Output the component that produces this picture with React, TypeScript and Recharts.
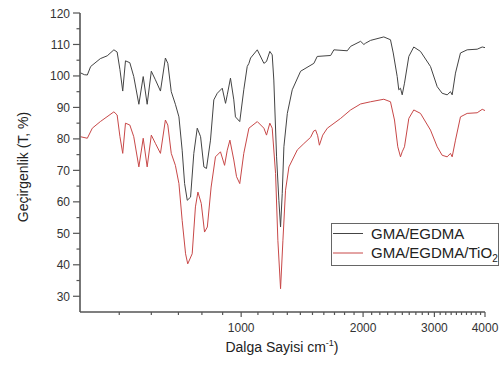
import React from "react";
import { LineChart, Line, XAxis, YAxis, Legend } from "recharts";

// wavenumber (cm-1) and transmittance (%)
const WAVE_GMA = [
  401, 410, 417, 425, 449, 467, 485, 494, 502, 510, 518, 531, 543, 559, 573,
  586, 600, 614, 632, 650, 659, 672, 688, 702, 715, 725, 736, 750, 764, 779,
  794, 809, 821, 840, 856, 873, 898, 915, 924, 941, 959, 968, 992, 1015, 1035,
  1045, 1055, 1096, 1138, 1155, 1177, 1193, 1204, 1223, 1239, 1251, 1263, 1275,
  1300, 1337, 1402, 1512, 1541, 1663, 1694, 1828, 1863, 1972, 2009, 2028, 2087,
  2250, 2337, 2374, 2428, 2450, 2474, 2498, 2531, 2594, 2668, 2772, 2934, 3048,
  3135, 3226, 3287, 3319, 3382, 3479, 3614, 3826, 3937, 4000,
];
const T_GMA = [
  101.0, 100.4, 100.3, 103.0, 105.5, 106.4, 108.3, 107.6, 102.0, 95.2, 104.8,
  104.2, 99.8, 91.0, 99.8, 91.0, 101.5, 98.8, 95.2, 105.7, 104.0, 95.0, 91.0,
  87.0, 76.4, 65.8, 60.5, 61.5, 75.4, 83.4, 80.7, 71.1, 70.6, 79.6, 92.4, 94.5,
  96.1, 91.3, 94.0, 99.3, 92.4, 87.0, 85.5, 95.6, 103.0, 104.0, 105.7, 108.3,
  104.0, 104.6, 107.8, 106.7, 98.7, 74.3, 60.5, 52.0, 62.6, 77.5, 88.1, 95.6,
  101.5, 104.0, 106.2, 106.5, 108.3, 108.0, 109.4, 111.0, 110.0, 110.4, 111.3,
  112.4, 111.5, 107.3, 99.8, 95.6, 96.1, 94.0, 97.7, 106.2, 109.2, 107.8, 103.0,
  96.6, 94.5, 94.0, 95.0, 94.0, 100.9, 107.3, 108.3, 108.5, 109.2, 109.0,
];

const WAVE_TIO2 = [
  401, 417, 429, 449, 485, 494, 502, 510, 518, 531, 543, 559, 573, 586, 600,
  614, 632, 650, 659, 672, 688, 702, 715, 729, 738, 757, 771, 782, 797, 812,
  825, 843, 864, 889, 910, 924, 938, 959, 974, 992, 1015, 1045, 1096, 1138,
  1155, 1177, 1193, 1216, 1232, 1251, 1268, 1287, 1312, 1376, 1428, 1484, 1510,
  1527, 1545, 1560, 1590, 1632, 1760, 1863, 1972, 2087, 2250, 2337, 2391, 2436,
  2474, 2498, 2531, 2594, 2668, 2772, 2934, 3048, 3135, 3226, 3287, 3319, 3382,
  3479, 3614, 3826, 3937, 4000,
];
const T_TIO2 = [
  80.7, 80.2, 83.4, 85.5, 88.6, 87.6, 80.7, 75.4, 85.0, 84.4, 80.7, 71.1, 80.2,
  71.1, 81.2, 78.6, 75.4, 86.0, 84.4, 75.4, 71.6, 65.8, 54.1, 43.5, 40.3, 43.5,
  58.4, 63.1, 59.5, 50.4, 52.0, 64.7, 74.3, 75.9, 71.6, 76.4, 79.6, 73.3, 68.0,
  65.8, 75.4, 83.4, 85.5, 83.4, 81.2, 85.0, 83.4, 69.0, 47.8, 32.4, 47.8, 63.7,
  71.1, 76.5, 78.5, 80.5, 82.5, 82.8, 81.0, 78.0, 81.2, 83.4, 86.5, 89.2, 91.1,
  91.8, 92.6, 91.8, 86.0, 77.5, 74.3, 75.9, 77.5, 86.5, 89.2, 88.1, 82.8, 77.5,
  74.8, 74.3, 75.4, 74.3, 79.6, 87.0, 88.1, 88.3, 89.4, 89.0,
];

const X_MAJOR = [1000, 2000, 3000, 4000];
const X_TICKS = [
  500, 600, 700, 800, 900, 1000, 1100, 1200, 1300, 1400, 1500, 1600, 1700,
  1800, 1900, 2000, 2100, 2200, 2300, 2400, 2500, 2600, 2700, 2800, 2900, 3000,
  3100, 3200, 3300, 3400, 3500, 3600, 3700, 3800, 3900, 4000,
];
const Y_TICKS = [
  30, 35, 40, 45, 50, 55, 60, 65, 70, 75, 80, 85, 90, 95, 100, 105, 110, 115,
  120,
];

const SERIES = [
  { key: "gma", name: "GMA/EGDMA", color: "#444444" },
  { key: "tio2", name: "GMA/EGDMA/TiO", sub: "2", color: "#c84848" },
];

const FONT = "'Liberation Sans', Arial, sans-serif";
const AXIS = "#555";

const gmaData = WAVE_GMA.map((w, i) => ({ w, t: T_GMA[i] }));
const tioData = WAVE_TIO2.map((w, i) => ({ w, t: T_TIO2[i] }));

function XTick(props: any) {
  const { x, y, payload } = props;
  const major = X_MAJOR.includes(payload.value);
  return (
    <g>
      <line x1={x} x2={x} y1={y} y2={y + (major ? 5 : 3)} stroke={AXIS} strokeWidth={1.2} />
      {major && (
        <text x={x} y={y + 20} textAnchor="middle" fontSize={12} fill="#333" fontFamily={FONT}>
          {payload.value}
        </text>
      )}
    </g>
  );
}

function YTick(props: any) {
  const { x, y, payload } = props;
  const major = payload.value % 10 === 0;
  return (
    <g>
      <line x1={x - (major ? 7 : 3.5)} x2={x} y1={y} y2={y} stroke={AXIS} strokeWidth={1.2} />
      {major && (
        <text x={x - 10} y={y + 4.5} textAnchor="end" fontSize={12} fill="#333" fontFamily={FONT}>
          {payload.value}
        </text>
      )}
    </g>
  );
}

function LegendBox() {
  return (
    <svg width={168} height={43} style={{ display: "block" }}>
      <rect x={0.5} y={0.5} width={167} height={42} fill="#fff" stroke="#666" strokeWidth={1} />
      {SERIES.map((s, i) => {
        const cy = 10.5 + i * 19.5;
        return (
          <g key={s.key}>
            <line x1={2} x2={32} y1={cy} y2={cy} stroke={s.color} strokeWidth={1} />
            <text x={40} y={cy + 5} fontSize={15} fill="#222" fontFamily={FONT}>
              {s.name}
              {s.sub && (
                <tspan fontSize={10} dy={4}>
                  {s.sub}
                </tspan>
              )}
            </text>
          </g>
        );
      })}
    </svg>
  );
}

export default function App() {
  return (
    <div style={{ position: "absolute", left: 0, top: 0, width: 501, height: 365, background: "#fff" }}>
      <LineChart width={501} height={365} margin={{ top: 13, right: 16, bottom: 0, left: 0 }}>
        <XAxis
          dataKey="w"
          type="number"
          scale="log"
          domain={[400, 4000]}
          allowDataOverflow
          ticks={X_TICKS}
          interval={0}
          tick={<XTick />}
          tickLine={false}
          tickSize={0}
          tickMargin={0}
          height={53}
          axisLine={{ stroke: AXIS, strokeWidth: 1.6 }}
        />
        <YAxis
          type="number"
          domain={[25, 120]}
          allowDataOverflow
          ticks={Y_TICKS}
          interval={0}
          tick={<YTick />}
          tickLine={false}
          tickSize={0}
          tickMargin={0}
          width={80}
          axisLine={{ stroke: AXIS, strokeWidth: 1.6 }}
        />
        <Line
          data={gmaData}
          dataKey="t"
          name={SERIES[0].name}
          stroke={SERIES[0].color}
          strokeWidth={1}
          dot={false}
          type="linear"
          isAnimationActive={false}
        />
        <Line
          data={tioData}
          dataKey="t"
          name={SERIES[1].name}
          stroke={SERIES[1].color}
          strokeWidth={1}
          dot={false}
          type="linear"
          isAnimationActive={false}
        />
        <Legend
          layout="horizontal"
          verticalAlign="middle"
          align="center"
          content={() => <LegendBox />}
          wrapperStyle={{ left: 331, top: 223, width: 168, height: 43 }}
        />
        <text x={282} y={352} textAnchor="middle" fontSize={14} fill="#222" fontFamily={FONT}>
          Dalga Sayisi cm
          <tspan fontSize={9} dy={-6}>
            -1
          </tspan>
          <tspan dy={6}>)</tspan>
        </text>
        <text
          x={28}
          y={167}
          transform="rotate(-90 28 167)"
          textAnchor="middle"
          fontSize={14}
          fill="#222"
          fontFamily={FONT}
        >
          Geçirgenlik (T, %)
        </text>
      </LineChart>
    </div>
  );
}
